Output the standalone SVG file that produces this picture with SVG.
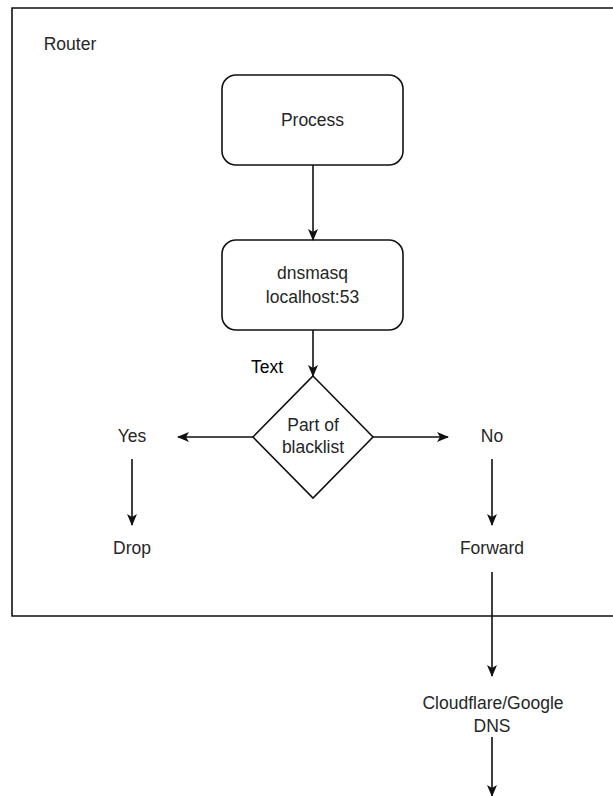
<svg xmlns="http://www.w3.org/2000/svg" width="613" height="796" viewBox="0 0 613 796">
<style>
text{font-family:"Liberation Sans",Arial,sans-serif;font-size:17.5px;fill:#262626;text-anchor:middle;dominant-baseline:central}
.shape{fill:#fff;stroke:#111;stroke-width:1.6}
.edge{fill:none;stroke:#111;stroke-width:1.6}
</style>
<defs>
<marker id="ah" viewBox="0 0 12 12" refX="11" refY="6" markerWidth="12" markerHeight="12" markerUnits="userSpaceOnUse" orient="auto">
<path d="M0,1 L12,6 L0,11 L3,6 Z" fill="#111"/>
</marker>
</defs>
<rect width="613" height="796" fill="#fff"/>
<g id="router">
<path class="shape" d="M614,8 H12 V616 H614"/>
<text x="70" y="44">Router</text>
</g>
<g id="process">
<rect class="shape" x="222" y="75" width="181" height="90" rx="14"/>
<text x="312.5" y="120">Process</text>
</g>
<g id="dnsmasq">
<rect class="shape" x="222" y="240" width="181" height="90" rx="14"/>
<text x="312.5" y="273">dnsmasq</text>
<text x="312.5" y="297">localhost:53</text>
</g>
<g id="text-label">
<text x="267" y="367" style="fill:#000">Text</text>
</g>
<g id="decision">
<path class="shape" d="M313,376 L373,437 L313,498 L253,437 Z"/>
<text x="313" y="425">Part of</text>
<text x="313" y="447">blacklist</text>
</g>
<g id="yes"><text x="132" y="436">Yes</text></g>
<g id="no"><text x="492" y="436">No</text></g>
<g id="drop"><text x="132" y="548">Drop</text></g>
<g id="forward"><text x="492" y="548">Forward</text></g>
<g id="dns">
<text x="493" y="703">Cloudflare/Google</text>
<text x="492" y="726">DNS</text>
</g>
<g id="connectors">
<line class="edge" x1="313" y1="165" x2="313" y2="240" marker-end="url(#ah)"/>
<line class="edge" x1="313" y1="330" x2="313" y2="376" marker-end="url(#ah)"/>
<line class="edge" x1="253" y1="437" x2="178" y2="437" marker-end="url(#ah)"/>
<line class="edge" x1="373" y1="437" x2="448" y2="437" marker-end="url(#ah)"/>
<line class="edge" x1="132" y1="459" x2="132" y2="525" marker-end="url(#ah)"/>
<line class="edge" x1="492" y1="459" x2="492" y2="525" marker-end="url(#ah)"/>
<line class="edge" x1="492" y1="572" x2="492" y2="676" marker-end="url(#ah)"/>
<line class="edge" x1="492" y1="737" x2="492" y2="796" marker-end="url(#ah)"/>
</g>
</svg>
